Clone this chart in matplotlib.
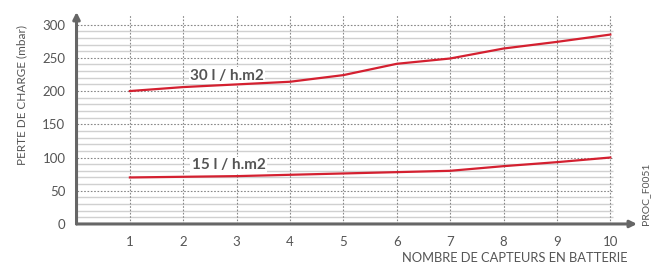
import matplotlib.pyplot as plt

# Données
capteurs = [1, 2, 3, 4, 5, 6, 7, 8, 9, 10]
debit_30 = [200, 206, 210, 214, 224, 241, 249, 264, 274, 285]
debit_15 = [70, 71, 72, 74, 76, 78, 80, 87, 93, 100]
y_ticks = [0, 50, 100, 150, 200, 250, 300]

gris = '#666666'
rouge = '#d42030'

plt.rcParams['font.family'] = ['Lato', 'DejaVu Sans']

fig = plt.figure(figsize=(6.54, 2.66), dpi=100)
ax = fig.add_axes([0.117, 0.158, 0.857, 0.797])
ax.set_xlim(0, 10.5)
ax.set_ylim(0, 319)
for s in ax.spines.values():
    s.set_visible(False)

# Grille fine (tous les 10) et grille pointillée (tous les 50)
for y in range(10, 301, 10):
    if y % 50:
        ax.hlines(y, 0, 10.05, color='#d0d0d0', lw=1.0, zorder=1)
for y in y_ticks[1:]:
    ax.hlines(y, 0, 10.05, color='#888888', lw=0.8, linestyles=(0, (1.5, 1.5)), zorder=2)
ax.vlines(capteurs, 0, 316, color='#888888', lw=0.8, linestyles=(0, (1.5, 1.5)), zorder=2)

# Axes avec flèches
ax.annotate('', xy=(10.5, 0), xytext=(0, 0),
            arrowprops=dict(arrowstyle='-|>', color=gris, lw=2.2, mutation_scale=10,
                            shrinkA=0, shrinkB=0), annotation_clip=False, zorder=5)
ax.annotate('', xy=(0, 319), xytext=(0, 0),
            arrowprops=dict(arrowstyle='-|>', color=gris, lw=2.2, mutation_scale=10,
                            shrinkA=0, shrinkB=0), annotation_clip=False, zorder=5)

# Courbes (au-dessus des étiquettes)
ax.plot(capteurs, debit_30, color=rouge, lw=1.6, zorder=7)
ax.plot(capteurs, debit_15, color=rouge, lw=1.6, zorder=7)

bbox = dict(facecolor='white', edgecolor='none', pad=1)
ax.text(2.82, 223, '30 l / h.m2', ha='center', va='center', fontsize=11,
        fontweight='bold', color='#555555', bbox=bbox, zorder=6)
ax.text(2.85, 88, '15 l / h.m2', ha='center', va='center', fontsize=11,
        fontweight='bold', color='#555555', bbox=bbox, zorder=6)

# Graduations
ax.set_xticks(capteurs)
ax.set_yticks(y_ticks)
ax.tick_params(length=0, colors='#555555', labelsize=9.5)
ax.tick_params(axis='x', pad=9)
ax.tick_params(axis='y', pad=8)

fig.text(0.034, 0.38, 'PERTE DE CHARGE (mbar)', rotation=90, ha='center', va='bottom',
         fontsize=8.5, color='#555555')
fig.text(0.959, 0.03, 'NOMBRE DE CAPTEURS EN BATTERIE', ha='right', va='center',
         fontsize=9.3, color='#555555')
fig.text(0.987, 0.27, 'PROC_F0051', rotation=90, ha='center', va='center',
         fontsize=7.5, color='#555555')

plt.savefig('out.png', dpi=100)
